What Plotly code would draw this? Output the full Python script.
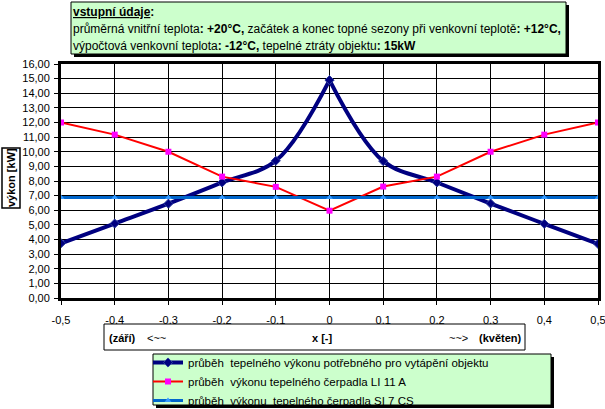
import plotly.graph_objects as go

x_vals = [-0.5, -0.4, -0.3, -0.2, -0.1, 0.0, 0.1, 0.2, 0.3, 0.4, 0.5]
x_tick_labels = ["-0,5", "-0,4", "-0,3", "-0,2", "-0,1", "0", "0,1", "0,2", "0,3", "0,4", "0,5"]
heat_demand = [3.74, 5.09, 6.45, 7.9, 9.38, 14.9, 9.36, 7.9, 6.46, 5.07, 3.7]
pump_li11a = [12.0, 11.17, 10.0, 8.3, 7.6, 5.97, 7.62, 8.3, 10.0, 11.17, 12.0]
pump_si7cs = [6.88] * 11

name_demand = "průběh  tepelného výkonu potřebného pro vytápění objektu"
name_li = "průběh  výkonu tepelného čerpadla LI 11 A"
name_si = "průběh  výkonu  tepelného čerpadla SI 7 CS"

W, H = 605, 409
L, R, T, B = 61, 598, 64, 298


def px(x):
    return (x - L) / (R - L)


def py(y):
    return (B - y) / (B - T)


FONT = "Liberation Sans, Arial, sans-serif"
fig = go.Figure()

peak = x_vals.index(0.0)
fig.add_trace(go.Scatter(
    x=x_vals[:peak + 1], y=heat_demand[:peak + 1], mode="lines+markers", name=name_demand,
    line=dict(color="#000080", width=4, shape="spline", smoothing=1),
    marker=dict(symbol="diamond", size=7, color="#000080", line=dict(color="#3040a0", width=1)),
    showlegend=True))
fig.add_trace(go.Scatter(
    x=x_vals[peak:], y=heat_demand[peak:], mode="lines+markers", name=name_demand,
    line=dict(color="#000080", width=4, shape="spline", smoothing=1),
    marker=dict(symbol="diamond", size=7, color="#000080", line=dict(color="#3040a0", width=1)),
    showlegend=False))
fig.add_trace(go.Scatter(
    x=x_vals, y=pump_li11a, mode="lines+markers", name=name_li,
    line=dict(color="#FF0000", width=2),
    marker=dict(symbol="square", size=6, color="#FF00FF")))
fig.add_trace(go.Scatter(
    x=x_vals, y=pump_si7cs, mode="lines+markers", name=name_si,
    line=dict(color="#0066CC", width=3),
    marker=dict(symbol="triangle-up", size=6, color="#3399FF")))

shapes = []


def box(x0, y0, x1, y1, fill, shadow=True, lw=1):
    if shadow:
        shapes.append(dict(type="rect", xref="paper", yref="paper",
                           x0=px(x0 + 3), x1=px(x1 + 3), y0=py(y0 + 3), y1=py(y1 + 3),
                           fillcolor="black", line=dict(width=0), layer="above"))
    shapes.append(dict(type="rect", xref="paper", yref="paper",
                       x0=px(x0), x1=px(x1), y0=py(y0), y1=py(y1),
                       fillcolor=fill, line=dict(color="black", width=lw), layer="above"))


box(71, 2, 566, 54, "#CCFFCC")
box(2, 148, 20, 208, "white", shadow=False, lw=1.5)
box(104, 324, 525, 350, "white", shadow=False)
box(153, 354, 551, 405, "#CCFFCC")

ann = []


def text(x, y, s, anchor="left", size=11, angle=0):
    ann.append(dict(xref="paper", yref="paper", x=px(x), y=py(y), text=s, showarrow=False,
                    xanchor=anchor, yanchor="middle", textangle=angle,
                    font=dict(family=FONT, size=size, color="black")))


text(71, 12, "<b><u>vstupní údaje</u>:</b>", size=12)
text(71, 29, "průměrná vnitřní teplota<b>: +20°C,</b> začátek a konec topné sezony při venkovní teplotě<b>: +12°C,</b>", size=12)
text(71, 46, "výpočtová venkovní teplota<b>: -12°C,</b> tepelné ztráty objektu<b>: 15kW</b>", size=12)
text(11, 178, "<b>výkon [kW]</b>", anchor="center", angle=-90)
text(107, 338, "<b>(září)</b>")
text(145, 338, "<~~")
text(322, 338, "<b>x [-]</b>", anchor="center")
text(447, 338, "~~>")
text(524, 338, "<b>(květen)</b>", anchor="right")

fig.update_layout(
    width=W, height=H,
    margin=dict(l=L, r=W - R, t=T, b=H - B, autoexpand=False),
    paper_bgcolor="white", plot_bgcolor="white",
    separators=", ",
    font=dict(family=FONT, size=11, color="black"),
    shapes=shapes, annotations=ann,
    showlegend=True,
    legend=dict(x=px(148), y=py(348), xanchor="left", yanchor="top",
                bgcolor="rgba(0,0,0,0)", borderwidth=0, tracegroupgap=0,
                font=dict(family=FONT, size=11.5, color="black"), itemwidth=30),
    xaxis=dict(range=[-0.5, 0.5], tickvals=x_vals, ticktext=x_tick_labels,
               showgrid=True, gridcolor="black", gridwidth=1,
               showline=True, linecolor="black", linewidth=3, mirror=True,
               ticks="outside", ticklen=4, tickcolor="black", zeroline=False,
               ticklabelstandoff=6, automargin=False, ticklabeloverflow="allow",
               tickfont=dict(size=11)),
    yaxis=dict(range=[0, 16], dtick=1, tickformat=".2f",
               showgrid=True, gridcolor="black", gridwidth=1,
               showline=True, linecolor="black", linewidth=3, mirror=True,
               ticks="outside", ticklen=4, tickcolor="black", zeroline=False,
               ticklabelstandoff=2, automargin=False, ticklabeloverflow="allow",
               tickfont=dict(size=11)),
)

fig.write_html("out.html", config={"displayModeBar": False},
               post_script="document.body.style.margin='0';document.body.style.overflow='hidden';")
